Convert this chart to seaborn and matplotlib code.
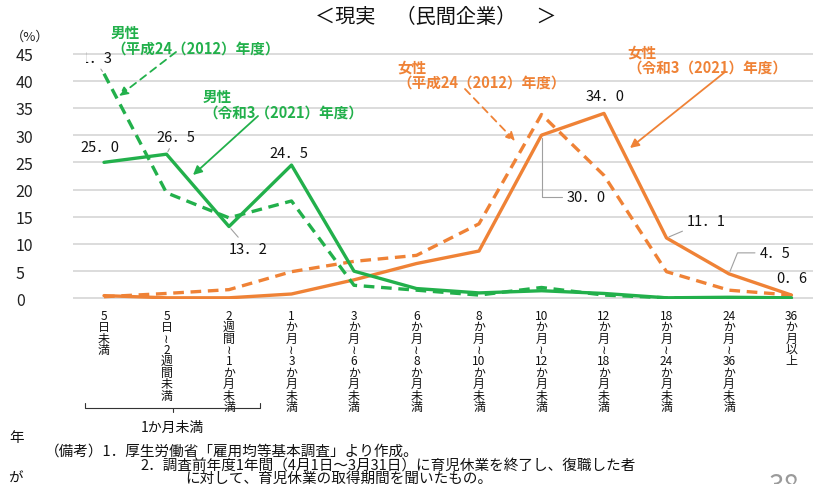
import re
import numpy as np
import pandas as pd
import matplotlib
matplotlib.use("Agg")
import matplotlib.pyplot as plt
import seaborn as sns
from matplotlib.lines import Line2D
from matplotlib.transforms import Bbox, TransformedBbox, IdentityTransform

# ---------------- data ----------------
categories = ["5日未満", "5日～2週間未満", "2週間～1か月未満", "1か月～3か月未満",
              "3か月～6か月未満", "6か月～8か月未満", "8か月～10か月未満",
              "10か月～12か月未満", "12か月～18か月未満", "18か月～24か月未満",
              "24か月～36か月未満", "36か月以上"]
male_2021 = [25.0, 26.5, 13.2, 24.5, 5.0, 1.8, 1.0, 1.4, 0.9, 0.1, 0.2, 0.1]
male_2012 = [41.3, 19.4, 14.8, 17.9, 2.4, 1.5, 0.6, 2.0, 0.6, 0.1, 0.0, 0.0]
female_2021 = [0.5, 0.1, 0.1, 0.8, 3.4, 6.4, 8.7, 30.0, 34.0, 11.1, 4.5, 0.6]
female_2012 = [0.3, 0.9, 1.6, 4.9, 6.8, 7.9, 13.7, 33.8, 22.6, 4.9, 1.5, 0.6]
y_ticks = [0, 5, 10, 15, 20, 25, 30, 35, 40, 45]

s_f12 = "女性（平成24（2012）年度）"
s_f21 = "女性（令和3（2021）年度）"
s_m12 = "男性（平成24（2012）年度）"
s_m21 = "男性（令和3（2021）年度）"

GREEN = "#22B04B"
ORANGE = "#EF8236"
GRID = "#DCDCDC"
LEAD = "#A0A0A0"

frames = []
for name, vals in [(s_f12, female_2012), (s_f21, female_2021),
                   (s_m12, male_2012), (s_m21, male_2021)]:
    frames.append(pd.DataFrame({"pos": np.arange(len(categories)),
                                "value": vals, "series": name}))
df = pd.concat(frames, ignore_index=True)

# ---------------- figure ----------------
W, H = 813, 485
sns.set_theme(style="white")
plt.rcParams["font.family"] = ["Noto Sans CJK JP", "DejaVu Sans"]
plt.rcParams["axes.unicode_minus"] = False

fig = plt.figure(figsize=(W / 100, H / 100), dpi=100)
fig.patch.set_facecolor("white")

AX_L, AX_B, AX_T = 72.75, 300.0, 53.9
ax = fig.add_axes([AX_L / W, 1 - AX_B / H, (W - AX_L) / W, (AX_B - AX_T) / H])
ax.set_facecolor("white")

palette = {s_f12: ORANGE, s_f21: ORANGE, s_m12: GREEN, s_m21: GREEN}
dashes = {s_f12: (3.2, 2.0), s_f21: "", s_m12: (3.2, 2.0), s_m21: ""}
sns.lineplot(data=df, x="pos", y="value", hue="series", style="series",
             hue_order=[s_f12, s_f21, s_m12, s_m21],
             style_order=[s_f12, s_f21, s_m12, s_m21],
             palette=palette, dashes=dashes, linewidth=2.4,
             errorbar=None, legend=False, ax=ax, zorder=3)

ax.set_xlim(-0.5, -0.5 + (W - AX_L) / 62.5)
ax.set_ylim(-0.12, 45.12)
ax.set_yticks(y_ticks)
ax.set_yticklabels([str(v) for v in y_ticks])
ax.grid(axis="y", color=GRID, linewidth=1.4, zorder=0)
ax.grid(axis="x", visible=False)
for sp in ax.spines.values():
    sp.set_visible(False)
ax.set_xlabel("")
ax.set_ylabel("")


def vertical(s):
    return "\n".join(re.findall(r"\d+|.", s.replace("～", "≀")))


ax.set_xticks(np.arange(len(categories)))
ax.set_xticklabels([vertical(c) for c in categories], fontsize=8.6,
                   linespacing=0.84, va="top", color="#111111")
ax.tick_params(axis="x", length=0, pad=7)
ax.tick_params(axis="y", length=0, pad=41, labelsize=11.5, labelcolor="#222222")
for t in ax.get_yticklabels():
    t.set_horizontalalignment("left")

# ---------------- data labels ----------------
def fmt(v):
    return f"{v:.1f}".replace(".", "．")


def dlabel(vals, i, dx, dy, lead=None, conn=None):
    kw = dict(xy=(i, vals[i]), xytext=(dx, -dy), textcoords="offset pixels",
              ha="center", va="center", fontsize=10.5, color="#111111", zorder=5)
    if lead:
        ap = dict(arrowstyle="-", color=LEAD, lw=0.8, shrinkA=1, shrinkB=2)
        if conn:
            ap["connectionstyle"] = conn
        kw["arrowprops"] = ap
    return ax.annotate(fmt(vals[i]), **kw)


dlabel(male_2021, 0, -4, -15)
dlabel(male_2021, 1, 9, -17, lead=True)
dlabel(male_2021, 2, 19, 22, lead=True)
dlabel(male_2021, 3, -3, -12)
dlabel(female_2021, 8, 1, -17)
dlabel(female_2021, 7, 45, 62, lead=True, conn="angle,angleA=0,angleB=90,rad=0")
dlabel(female_2021, 9, 40, -17, lead=True)
dlabel(female_2021, 10, 46, -21, lead=True, conn="angle,angleA=0,angleB=68,rad=0")
dlabel(female_2021, 11, 0, -17)
a41 = dlabel(male_2012, 0, -11, -16, lead=True)
a41.set_clip_on(True)
a41.set_clip_box(TransformedBbox(Bbox([[86, 0], [W, H]]), IdentityTransform()))

# ---------------- series annotations ----------------
def ftext(px, py, s, **kw):
    return fig.text(px / W, 1 - py / H, s, **kw)


def farrow(x0, y0, x1, y1, color, ls):
    ax.annotate("", xy=(x1, H - y1), xytext=(x0, H - y0),
                xycoords="figure pixels", textcoords="figure pixels",
                arrowprops=dict(arrowstyle="-|>", color=color, lw=1.3,
                                linestyle=ls, mutation_scale=13,
                                shrinkA=0, shrinkB=0), zorder=6)


lab_kw = dict(fontsize=10.5, fontweight="bold", va="top", ha="left", linespacing=0.95)
ftext(111, 25, "男性\n（平成24（2012）年度）", color=GREEN, **lab_kw)
farrow(176, 53, 119, 97, GREEN, (0, (4, 3)))
ftext(203, 89, "男性\n（令和3（2021）年度）", color=GREEN, **lab_kw)
farrow(258, 117, 193, 176, GREEN, "-")
ftext(397, 59, "女性\n（平成24（2012）年度）", color=ORANGE, **lab_kw)
farrow(465, 90, 515, 142, ORANGE, (0, (4, 3)))
ftext(627, 44, "女性\n（令和3（2021）年度）", color=ORANGE, **lab_kw)
farrow(725, 73, 630, 149, ORANGE, "-")

# ---------------- title and other text ----------------
ftext(436, 17, "＜現実　（民間企業）　＞", fontsize=14.5, ha="center", va="center",
      color="#111111")
ftext(11, 37, "（%）", fontsize=9.5, ha="left", va="center", color="#222222")

# bracket under first three categories
bx = [85, 85, 260, 260]
by = [404, 409, 409, 404]
fig.add_artist(Line2D([x / W for x in bx], [1 - y / H for y in by],
                      transform=fig.transFigure, color="#333333", lw=0.8))
fig.add_artist(Line2D([173 / W, 173 / W], [1 - 409 / H, 1 - 413 / H],
                      transform=fig.transFigure, color="#333333", lw=0.8))
ftext(172, 428, "1か月未満", fontsize=10, ha="center", va="center", color="#111111")

note_kw = dict(fontsize=10.5, ha="left", va="center", color="#111111")
ftext(9, 438, "年", **note_kw)
ftext(45, 452, "（備考）1．厚生労働省「雇用均等基本調査」より作成。", **note_kw)
ftext(140, 466, "2．調査前年度1年間（4月1日～3月31日）に育児休業を終了し、復職した者", **note_kw)
ftext(185, 479, "に対して、育児休業の取得期間を聞いたもの。", **note_kw)
ftext(8, 479, "が", **note_kw)
ftext(768, 472, "38", fontsize=20, ha="left", va="top", color="#9A9A9A")

fig.savefig("out.png", dpi=100, facecolor="white")
